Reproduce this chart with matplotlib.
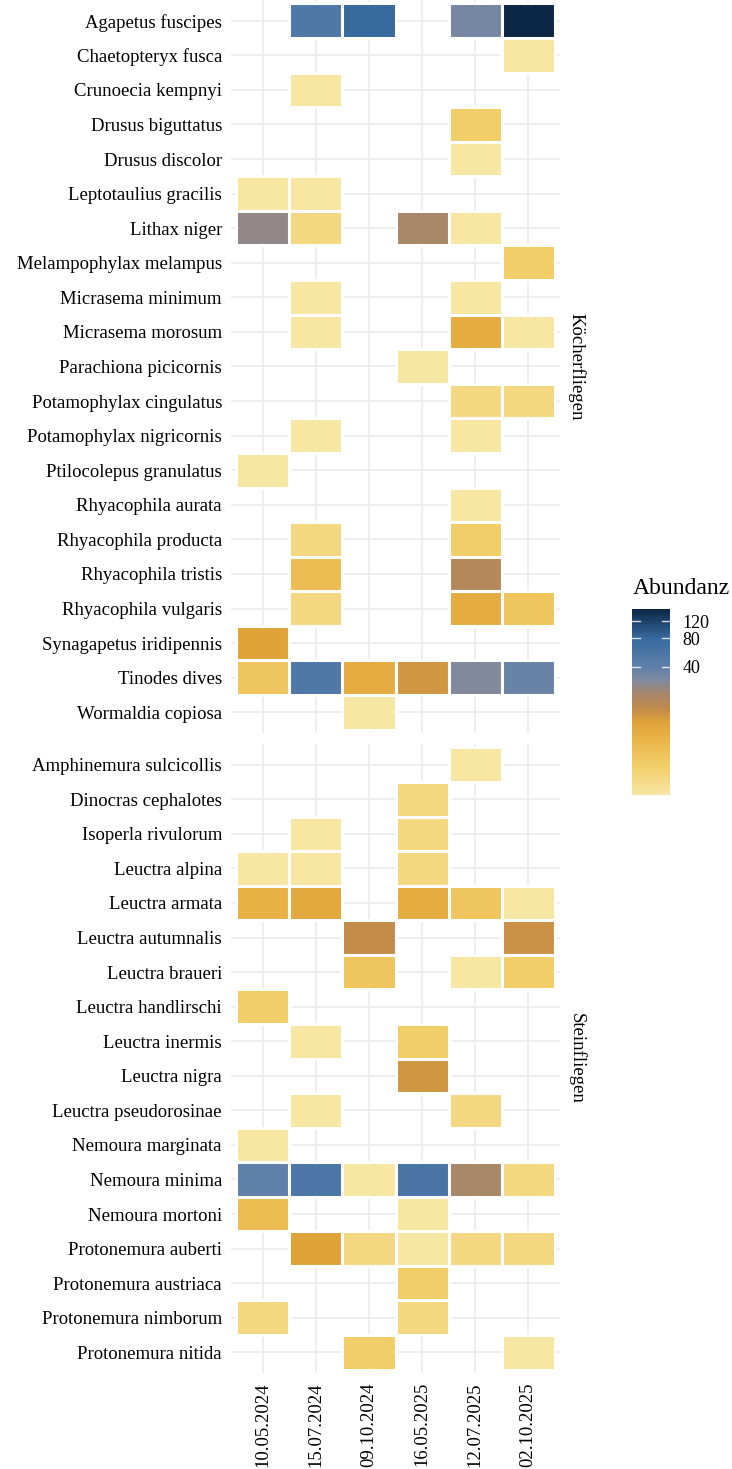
import numpy as np
import matplotlib.pyplot as plt
from matplotlib.colors import LinearSegmentedColormap, FuncNorm
from matplotlib.patches import Rectangle
from matplotlib.cm import ScalarMappable

plt.rcParams['font.family'] = ['Liberation Serif', 'DejaVu Serif']

N = np.nan
dates = ['10.05.2024', '15.07.2024', '09.10.2024', '16.05.2025', '12.07.2025', '02.10.2025']

# Köcherfliegen (Trichoptera)
koecher_species = [
    'Agapetus fuscipes', 'Chaetopteryx fusca', 'Crunoecia kempnyi', 'Drusus biguttatus',
    'Drusus discolor', 'Leptotaulius gracilis', 'Lithax niger', 'Melampophylax melampus',
    'Micrasema minimum', 'Micrasema morosum', 'Parachiona picicornis', 'Potamophylax cingulatus',
    'Potamophylax nigricornis', 'Ptilocolepus granulatus', 'Rhyacophila aurata',
    'Rhyacophila producta', 'Rhyacophila tristis', 'Rhyacophila vulgaris',
    'Synagapetus iridipennis', 'Tinodes dives', 'Wormaldia copiosa',
]
koecher_values = [
    [N, 52, 80, N, 32, 160],
    [N, N, N, N, N, 1],
    [N, 1, N, N, N, N],
    [N, N, N, N, 3, N],
    [N, N, N, N, 1, N],
    [1, 1, N, N, N, N],
    [25, 2, N, 20, 1, N],
    [N, N, N, N, N, 3],
    [N, 1, N, N, 1, N],
    [N, 1, N, N, 8, 1],
    [N, N, N, 1, N, N],
    [N, N, N, N, 2, 2],
    [N, 1, N, N, 1, N],
    [1, N, N, N, N, N],
    [N, N, N, N, 1, N],
    [N, 2, N, N, 3, N],
    [N, 5, N, N, 17, N],
    [N, 2, N, N, 8, 4],
    [10, N, N, N, N, N],
    [4, 52, 8, 12, 29, 36],
    [N, N, 1, N, N, N],
]

# Steinfliegen (Plecoptera)
stein_species = [
    'Amphinemura sulcicollis', 'Dinocras cephalotes', 'Isoperla rivulorum', 'Leuctra alpina',
    'Leuctra armata', 'Leuctra autumnalis', 'Leuctra braueri', 'Leuctra handlirschi',
    'Leuctra inermis', 'Leuctra nigra', 'Leuctra pseudorosinae', 'Nemoura marginata',
    'Nemoura minima', 'Nemoura mortoni', 'Protonemura auberti', 'Protonemura austriaca',
    'Protonemura nimborum', 'Protonemura nitida',
]
stein_values = [
    [N, N, N, N, 1, N],
    [N, N, N, 2, N, N],
    [N, 1, N, 2, N, N],
    [1, 1, N, 2, N, N],
    [7, 9, N, 8, 4, 1],
    [N, N, 14, N, N, 13],
    [N, N, 4, N, 1, 3],
    [3, N, N, N, N, N],
    [N, 1, N, 3, N, N],
    [N, N, N, 12, N, N],
    [N, 1, N, N, 2, N],
    [1, N, N, N, N, N],
    [40, 55, 1, 58, 20, 2],
    [5, N, N, 1, N, N],
    [N, 10, 2, 1, 2, 2],
    [N, N, N, 3, N, N],
    [2, N, N, 2, N, N],
    [N, N, 3, N, N, 1],
]

cbar_ticks = [40, 80, 120]

cmap = LinearSegmentedColormap.from_list('abund', [
    (0.0, '#F8E6A3'), (0.15, '#F2CF6A'), (0.30, '#E9B448'), (0.39, '#E0A33A'),
    (0.47, '#BE8A4C'), (0.55, '#A5866E'), (0.62, '#7F89A0'), (0.69, '#5E80AA'),
    (0.84, '#386B9F'), (1.0, '#0C2646'),
])
norm = FuncNorm((np.log1p, np.expm1), vmin=1, vmax=160)

W, H = 732, 1469
fig = plt.figure(figsize=(W / 100, H / 100), dpi=100)


def px_axes(x0, y0, x1, y1):
    return fig.add_axes([x0 / W, 1 - y1 / H, (x1 - x0) / W, (y1 - y0) / H])


def draw_panel(ax, species, values, strip, show_x):
    vals = np.array(values, dtype=float)
    n = len(species)
    ax.set_xlim(-0.6, len(dates) - 0.4)
    ax.set_ylim(n - 0.4, -0.6)
    ax.set_xticks(range(len(dates)))
    ax.set_xticklabels(dates, rotation=90)
    ax.set_yticks(range(n))
    ax.set_yticklabels(species)
    ax.grid(True, color='#EBEBEB', lw=1.2)
    ax.set_axisbelow(True)
    for s in ax.spines.values():
        s.set_visible(False)
    ax.tick_params(length=0, labelsize=13.5, pad=6.5, labelbottom=show_x)
    for i, j in zip(*np.where(~np.isnan(vals))):
        ax.add_patch(Rectangle((j - 0.5, i - 0.5), 1, 1,
                               facecolor=cmap(norm(vals[i, j])),
                               edgecolor='white', lw=2.2))
    ax.annotate(strip, xy=(1, 0.5), xycoords='axes fraction',
                xytext=(12, 0), textcoords='offset points',
                rotation=270, ha='center', va='center', fontsize=13.5)


ax1 = px_axes(231, 0, 560, 733)
draw_panel(ax1, koecher_species, koecher_values, 'Köcherfliegen', False)
ax2 = px_axes(231, 744, 560, 1373)
draw_panel(ax2, stein_species, stein_values, 'Steinfliegen', True)

# legend
cax = px_axes(632, 609, 670, 795)
cb = fig.colorbar(ScalarMappable(norm=norm, cmap=cmap), cax=cax)
cb.outline.set_visible(False)
cb.set_ticks(cbar_ticks)
cb.set_ticklabels([str(t) for t in cbar_ticks])
cax.tick_params(length=0, labelsize=13, pad=9)
for t in cbar_ticks:
    cax.axhline(t, xmin=0, xmax=0.2, color='white', lw=1, alpha=0.8)
    cax.axhline(t, xmin=0.8, xmax=1, color='white', lw=1, alpha=0.8)
fig.text(633 / W, 1 - 588 / H, 'Abundanz', ha='left', va='center', fontsize=17)

fig.savefig('out.png', dpi=100, facecolor='white')
